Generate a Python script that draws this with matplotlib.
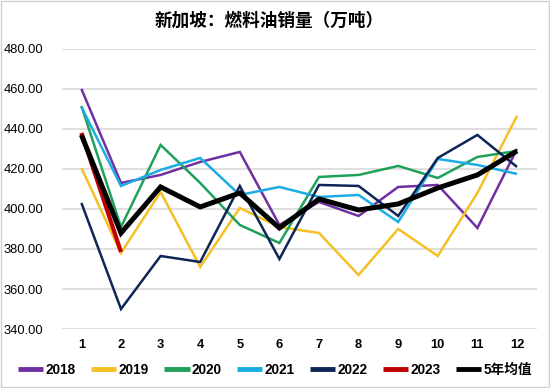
import matplotlib
matplotlib.use("Agg")
import matplotlib.pyplot as plt
from matplotlib.patches import Rectangle

plt.rcParams['font.family'] = ['Liberation Sans', 'Noto Sans CJK SC', 'DejaVu Sans']

months = list(range(1, 13))
s2018 = [460, 413, 417, 423.5, 428.5, 392, 403.5, 396.5, 411, 412, 390.5, 430]
s2019 = [420.5, 378, 408.5, 371, 400.5, 391, 388, 367, 390, 376.5, 408, 446.5]
s2020 = [451.5, 391, 432, 413, 392, 383, 416, 417, 421.5, 415.5, 426, 429]
s2021 = [451, 411.5, 419.5, 425.5, 407, 411, 406, 407, 393.5, 425, 422, 417.5]
s2022 = [403, 350, 376.5, 373.5, 411.5, 375, 412, 411.5, 396.5, 425.5, 437, 421]
s2023 = [438, 378.5]
avg5 = [437, 388, 411, 401, 408, 390.5, 405, 399.5, 402.5, 410.5, 417, 429]
yticks = [340, 360, 380, 400, 420, 440, 460, 480]

fig = plt.figure(figsize=(5.5, 3.88), dpi=100)
ax = fig.add_axes([0.112, 0.152, 0.864, 0.722])

series = [
    ("2018", s2018, "#7030A0", 1.8),
    ("2019", s2019, "#F5C026", 1.8),
    ("2020", s2020, "#1FA15A", 1.8),
    ("2021", s2021, "#1CACE4", 1.8),
    ("2022", s2022, "#0D2557", 1.8),
    ("2023", s2023, "#C00000", 3.0),
    ("5年均值", avg5, "#000000", 3.6),
]
for name, vals, color, lw in series:
    ax.plot(months[:len(vals)], vals, color=color, lw=lw, label=name,
            solid_joinstyle='miter', solid_capstyle='butt')

ax.set_xlim(0.5, 12.5)
ax.set_ylim(340, 480)
ax.set_yticks(yticks)
ax.set_yticklabels([f"{v:.2f}" for v in yticks], fontsize=9.3)
ax.set_xticks(months)
ax.set_xticklabels([str(m) for m in months], fontsize=9.3, fontweight='bold')
ax.grid(axis='y', color='#D9D9D9', lw=1.2)
ax.set_axisbelow(True)
for sp in ax.spines.values():
    sp.set_visible(False)
ax.tick_params(length=0)
ax.tick_params(axis='y', pad=13)
ax.tick_params(axis='x', pad=7)

fig.text(0.49, 0.946, "新加坡：燃料油销量（万吨）", ha='center', va='center',
         fontsize=12.7, fontweight='bold', family=['Noto Sans CJK SC', 'DejaVu Sans'])

leg = fig.legend(loc='center', bbox_to_anchor=(0.5, 0.046), ncol=7, frameon=False,
                 handlelength=1.85, handletextpad=0.15, columnspacing=1.15,
                 prop={'weight': 'bold', 'size': 9.8,
                       'family': ['Liberation Sans', 'Noto Sans CJK SC']})
for line in leg.get_lines():
    line.set_linewidth(3.5)

fig.patches.append(Rectangle((0.002, 0.002), 0.996, 0.996, transform=fig.transFigure,
                             fill=False, edgecolor='#D0D0D0', lw=1))
fig.savefig("out.png", dpi=100)
